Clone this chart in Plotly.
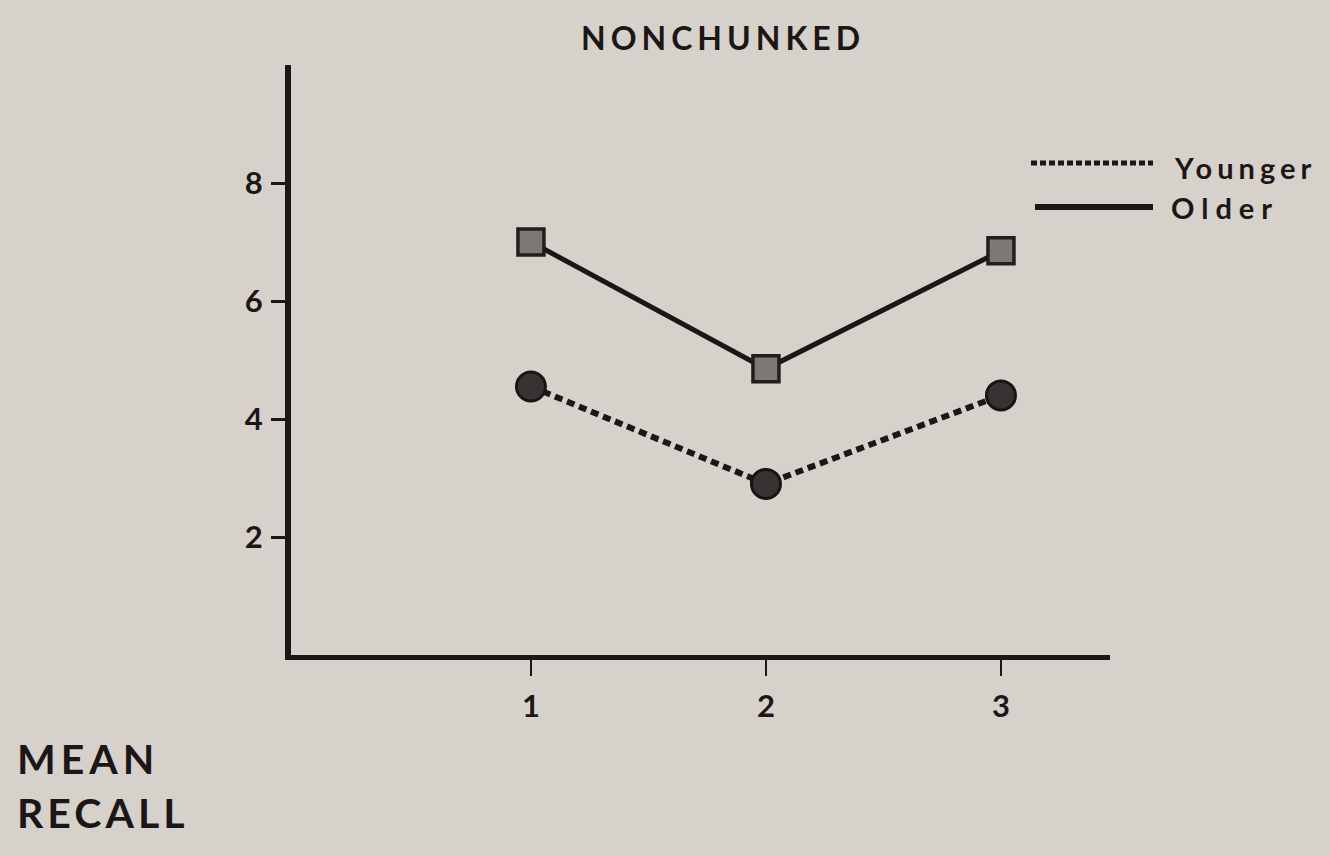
import plotly.graph_objects as go

# ---- data ----
conditions = [1, 2, 3]
younger = [4.55, 2.9, 4.4]
older = [7.0, 4.85, 6.85]
y_ticks = [2, 4, 6, 8]
x_ticks = [1, 2, 3]
title_text = "NONCHUNKED"
ylabel_lines = ["MEAN", "RECALL"]
series_names = ["Younger", "Older"]

BG = "#d6d2cb"
INK = "#1c1616"
FONT = "Lato"

W, H = 1330, 855
ML, MR, MT, MB = 291, 220, 65, 200
PW, PH = W - ML - MR, H - MT - MB


def px(xp):
    return (xp - ML) / PW


def py(yp):
    return (H - MB - yp) / PH


fig = go.Figure()

fig.add_trace(go.Scatter(
    x=conditions, y=younger, mode="lines+markers", name=series_names[0],
    line=dict(color=INK, width=6, dash="8px,5px"),
    marker=dict(symbol="circle", size=29, color="#383333",
                line=dict(color="#1a1515", width=3)),
    showlegend=False,
))
fig.add_trace(go.Scatter(
    x=conditions, y=older, mode="lines+markers", name=series_names[1],
    line=dict(color=INK, width=5),
    marker=dict(symbol="square", size=26, color="#7d7873",
                line=dict(color="#231d1d", width=3.5)),
    showlegend=False,
))

ls = "letter-spacing:{}px"

annotations = [
    dict(text=f"<span style='{ls.format(5)}'>{title_text}</span>", x=px(723), y=py(38),
         xref="paper", yref="paper", showarrow=False, xanchor="center", yanchor="middle",
         font=dict(family=FONT, size=32, color=INK, weight="bold")),
    dict(text=f"<span style='{ls.format(5)}'>{ylabel_lines[0]}</span>", x=px(15), y=py(758),
         xref="paper", yref="paper", showarrow=False, xanchor="left", yanchor="middle",
         font=dict(family=FONT, size=41, color=INK, weight="bold")),
    dict(text=f"<span style='{ls.format(4)}'>{ylabel_lines[1]}</span>", x=px(15), y=py(812),
         xref="paper", yref="paper", showarrow=False, xanchor="left", yanchor="middle",
         font=dict(family=FONT, size=41, color=INK, weight="bold")),
    dict(text=f"<span style='{ls.format(5)}'>{series_names[0]}</span>", x=px(1172), y=py(167),
         xref="paper", yref="paper", showarrow=False, xanchor="left", yanchor="middle",
         font=dict(family=FONT, size=29, color=INK, weight="bold")),
    dict(text=f"<span style='{ls.format(7)}'>{series_names[1]}</span>", x=px(1169), y=py(208),
         xref="paper", yref="paper", showarrow=False, xanchor="left", yanchor="middle",
         font=dict(family=FONT, size=29, color=INK, weight="bold")),
]

shapes = [
    dict(type="line", xref="paper", yref="paper", x0=px(1031), x1=px(1153), y0=py(163), y1=py(163),
         line=dict(color=INK, width=5, dash="6px,3px")),
    dict(type="line", xref="paper", yref="paper", x0=px(1035), x1=px(1153), y0=py(207), y1=py(207),
         line=dict(color=INK, width=6)),
]

fig.update_layout(
    width=W, height=H,
    margin=dict(l=ML, r=MR, t=MT, b=MB),
    paper_bgcolor=BG, plot_bgcolor=BG,
    annotations=annotations, shapes=shapes,
    showlegend=False,
    xaxis=dict(range=[-0.021, 3.464], tickvals=x_ticks, ticktext=[str(v) for v in x_ticks],
               showgrid=False, zeroline=False, showline=True, linecolor=INK, linewidth=5,
               ticks="outside", ticklen=16, tickwidth=2, tickcolor=INK,
               tickfont=dict(family=FONT, size=31, color=INK, weight="bold"),
               ticklabelstandoff=4),
    yaxis=dict(range=[0, 10], tickvals=y_ticks, ticktext=[str(v) for v in y_ticks],
               showgrid=False, zeroline=False, showline=True, linecolor=INK, linewidth=6,
               ticks="outside", ticklen=14, tickwidth=3, tickcolor=INK,
               tickfont=dict(family=FONT, size=31, color=INK, weight="bold"),
               ticklabelstandoff=2),
)

fig.write_html(
    "out.html",
    config={"displayModeBar": False},
    post_script=f"document.body.style.margin='0';document.body.style.background='{BG}';",
)
